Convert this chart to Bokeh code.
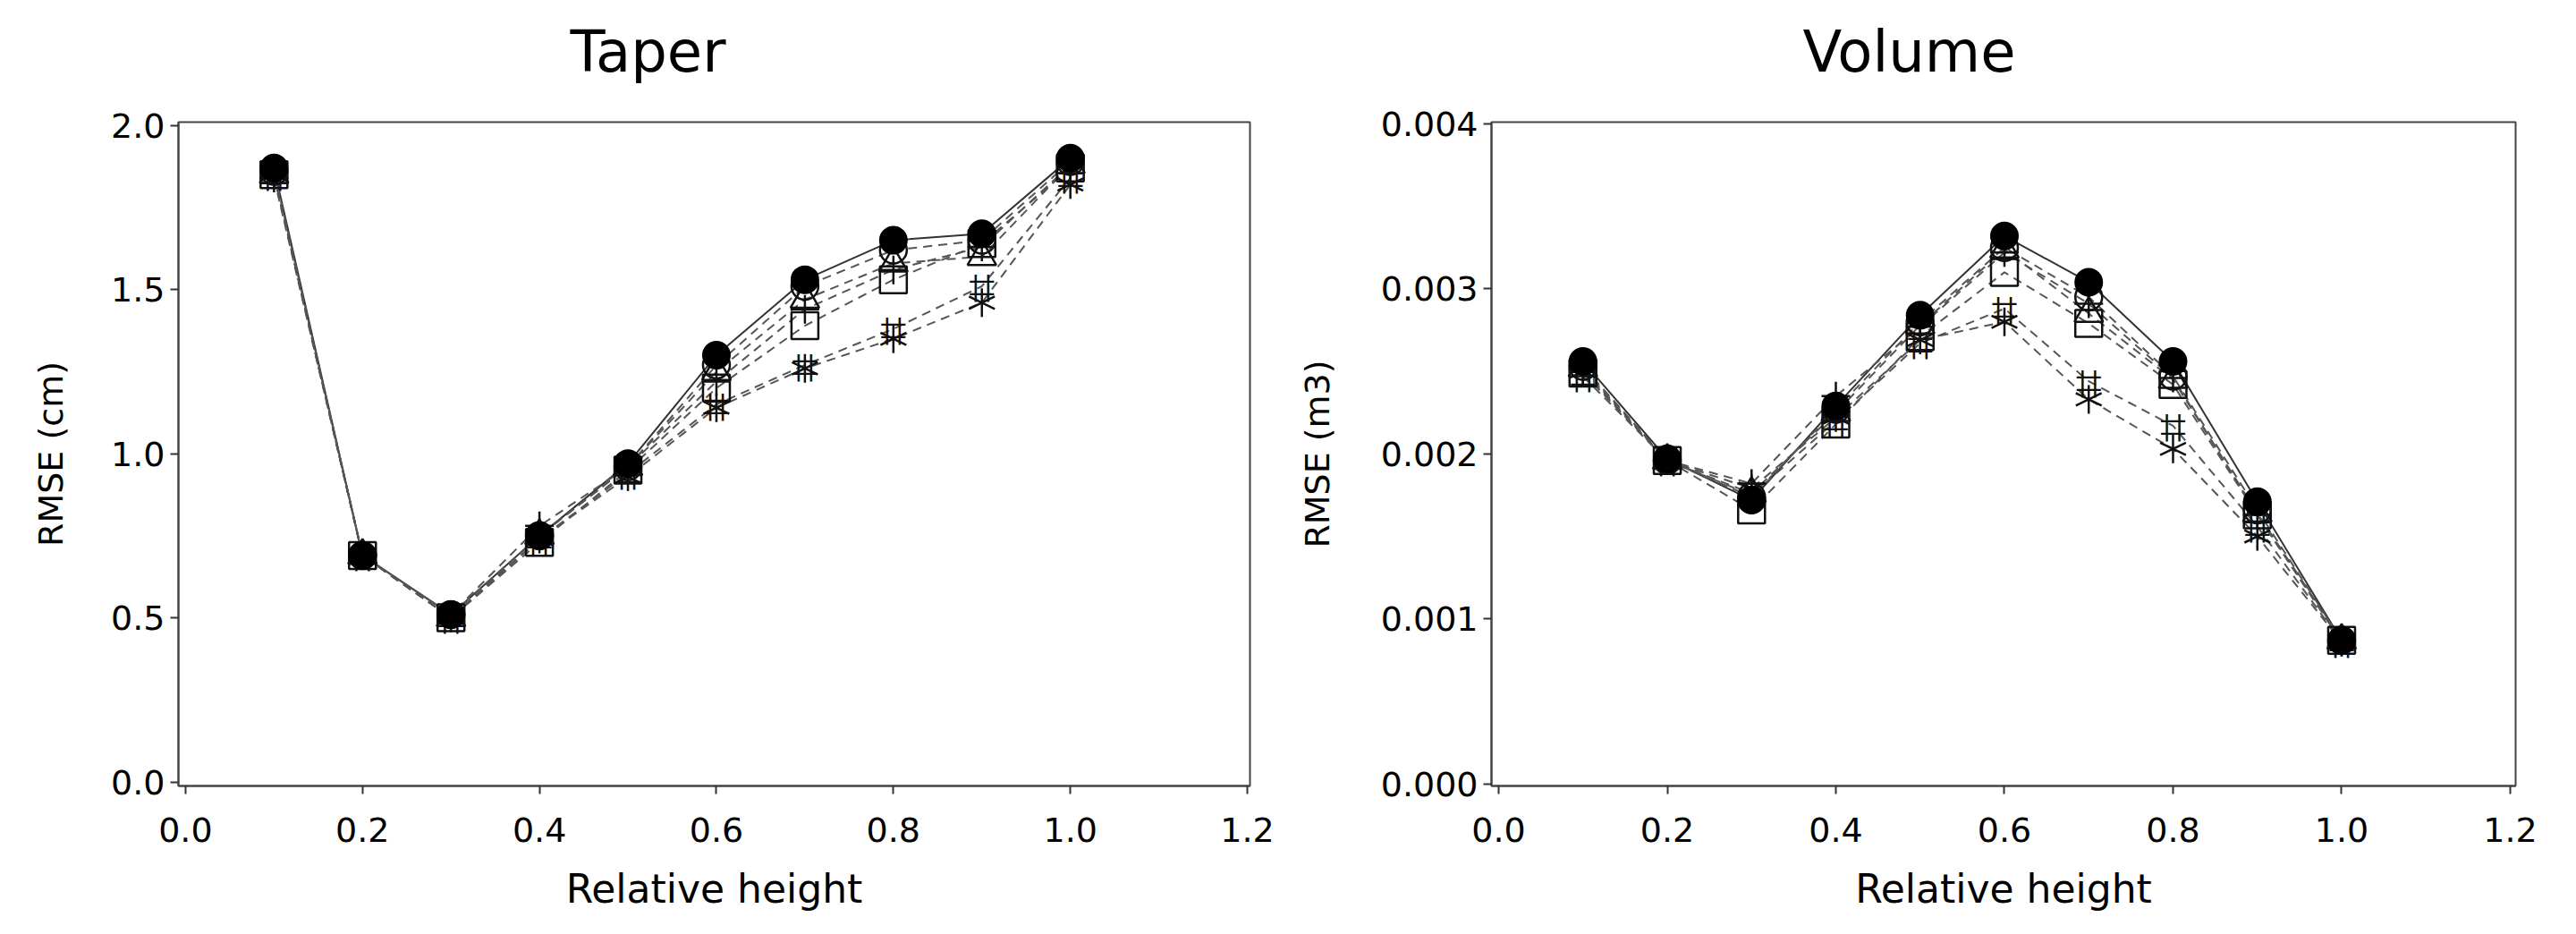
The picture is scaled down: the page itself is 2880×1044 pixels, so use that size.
import math
from bokeh.plotting import figure
from bokeh.layouts import row
from bokeh.models import FixedTicker, NumeralTickFormatter, Range1d, Title
from bokeh.core.properties import value
from bokeh.embed import file_html
from bokeh.resources import INLINE

# ---------------- data ----------------
relative_height = [0.1, 0.2, 0.3, 0.4, 0.5, 0.6, 0.7, 0.8, 0.9, 1.0]

# Taper RMSE (cm)
taper_filled_circle = [1.87, 0.69, 0.51, 0.75, 0.97, 1.30, 1.53, 1.65, 1.67, 1.90]
taper_open_circle   = [1.86, 0.69, 0.51, 0.75, 0.96, 1.27, 1.51, 1.62, 1.65, 1.89]
taper_triangle      = [1.85, 0.69, 0.50, 0.75, 0.96, 1.25, 1.47, 1.58, 1.60, 1.88]
taper_plus          = [1.84, 0.69, 0.51, 0.78, 0.96, 1.22, 1.44, 1.56, 1.63, 1.88]
taper_square        = [1.85, 0.69, 0.50, 0.73, 0.95, 1.20, 1.39, 1.53, 1.64, 1.87]
taper_hash          = [1.85, 0.69, 0.50, 0.74, 0.94, 1.15, 1.27, 1.38, 1.51, 1.84]
taper_asterisk      = [1.85, 0.69, 0.50, 0.74, 0.93, 1.14, 1.26, 1.35, 1.46, 1.82]

# Volume RMSE (m3)
volume_filled_circle = [0.00256, 0.00197, 0.00172, 0.00229, 0.00284, 0.00332, 0.00304, 0.00256, 0.00171, 0.00087]
volume_open_circle   = [0.00253, 0.00196, 0.00174, 0.00227, 0.00280, 0.00325, 0.00295, 0.00247, 0.00166, 0.00087]
volume_triangle      = [0.00252, 0.00196, 0.00176, 0.00225, 0.00278, 0.00324, 0.00285, 0.00245, 0.00164, 0.00087]
volume_plus          = [0.00251, 0.00196, 0.00182, 0.00235, 0.00277, 0.00322, 0.00291, 0.00246, 0.00163, 0.00086]
volume_square        = [0.00249, 0.00196, 0.00166, 0.00218, 0.00271, 0.00310, 0.00279, 0.00242, 0.00163, 0.00087]
volume_hash          = [0.00247, 0.00196, 0.00175, 0.00220, 0.00267, 0.00288, 0.00244, 0.00217, 0.00156, 0.00086]
volume_asterisk      = [0.00250, 0.00196, 0.00179, 0.00222, 0.00269, 0.00280, 0.00233, 0.00203, 0.00150, 0.00086]

x_ticks = [0.0, 0.2, 0.4, 0.6, 0.8, 1.0, 1.2]
taper_ticks = [0.0, 0.5, 1.0, 1.5, 2.0]
volume_ticks = [0.000, 0.001, 0.002, 0.003, 0.004]

FONT = "DejaVu Sans"
INK = "#111111"


def draw_markers(p, kind, xs, ys):
    if kind == "filled_circle":
        p.scatter(xs, ys, marker="circle", size=30, fill_color="black", line_color="black", line_width=2)
    elif kind == "open_circle":
        p.scatter(xs, ys, marker="circle", size=30, fill_alpha=0, line_color=INK, line_width=2.5)
    elif kind == "triangle":
        p.scatter(xs, ys, marker="triangle", size=32, fill_alpha=0, line_color=INK, line_width=2.5)
    elif kind == "plus":
        p.scatter(xs, ys, marker="cross", size=32, line_color=INK, line_width=2.5)
    elif kind == "square":
        p.scatter(xs, ys, marker="square", size=30, fill_alpha=0, line_color=INK, line_width=2.5)
    elif kind == "hash":
        vbars = ["|"] * len(xs)
        hbars = ["\u2014"] * len(xs)
        for dx in (-7, 7):
            p.text(xs, ys, text=vbars, x_offset=dx, text_font=value(FONT), text_font_size="30px",
                   text_align="center", text_baseline="middle", text_color=INK)
        for dy in (-7, 7):
            p.text(xs, ys, text=hbars, y_offset=dy, text_font=value(FONT), text_font_size="30px",
                   text_align="center", text_baseline="middle", text_color=INK)
    elif kind == "asterisk":
        for ang in (math.pi / 2, math.pi / 7, -math.pi / 7):
            p.scatter(xs, ys, marker="dash", size=32, angle=ang, line_color=INK, line_width=2.5)


def make_panel(title, title_offset, series, y_range, y_ticks, y_fmt, y_label,
               x_range, border_left, border_right, label_standoff):
    p = figure(width=1430, height=1028, output_backend="svg", toolbar_location=None,
               x_range=x_range, y_range=y_range,
               min_border_left=border_left, min_border_right=border_right,
               min_border_top=136, min_border_bottom=150,
               background_fill_color="white", border_fill_color="white")
    # invisible spacer between the frame and the title
    p.add_layout(Title(text=" ", text_font_size="1px", standoff=39), "above")

    p.title.text = title
    p.title.align = "left"
    p.title.vertical_align = "bottom"
    p.title.offset = title_offset
    p.title.text_font = FONT
    p.title.text_font_size = "64px"
    p.title.text_font_style = "normal"
    p.title.text_color = "black"
    p.title.standoff = 0

    p.grid.grid_line_color = None
    p.outline_line_color = "#444444"
    p.outline_line_width = 2

    for ax in (p.xaxis[0], p.yaxis[0]):
        ax.axis_line_color = "#444444"
        ax.axis_line_width = 2
        ax.major_tick_line_color = "#333333"
        ax.major_tick_line_width = 2
        ax.major_tick_in = 0
        ax.major_tick_out = 9
        ax.minor_tick_line_color = None
        ax.major_label_text_font = FONT
        ax.major_label_text_font_size = "38px"
        ax.major_label_text_color = "black"
        ax.axis_label_text_font = FONT
        ax.axis_label_text_font_style = "normal"
        ax.axis_label_text_color = "black"

    p.xaxis.ticker = FixedTicker(ticks=x_ticks)
    p.xaxis.formatter = NumeralTickFormatter(format="0.0")
    p.xaxis.axis_label = "Relative height"
    p.xaxis.axis_label_text_font_size = "44px"
    p.xaxis.major_label_standoff = 26
    p.xaxis.axis_label_standoff = 24

    p.yaxis.ticker = FixedTicker(ticks=y_ticks)
    p.yaxis.formatter = NumeralTickFormatter(format=y_fmt)
    p.yaxis.axis_label = y_label
    p.yaxis.axis_label_text_font_size = "38px"
    p.yaxis.major_label_standoff = 6
    p.yaxis.axis_label_standoff = label_standoff

    # lines first
    for kind, ys in series:
        if kind == "filled_circle":
            p.line(relative_height, ys, line_color="#333333", line_width=2)
        else:
            p.line(relative_height, ys, line_color="#555555", line_width=2, line_dash="10 7")
    # markers, filled circle drawn last (on top)
    for kind, ys in reversed(series):
        draw_markers(p, kind, relative_height, ys)
    return p


taper_series = [("filled_circle", taper_filled_circle), ("open_circle", taper_open_circle),
                ("triangle", taper_triangle), ("plus", taper_plus), ("square", taper_square),
                ("hash", taper_hash), ("asterisk", taper_asterisk)]
volume_series = [("filled_circle", volume_filled_circle), ("open_circle", volume_open_circle),
                 ("triangle", volume_triangle), ("plus", volume_plus), ("square", volume_square),
                 ("hash", volume_hash), ("asterisk", volume_asterisk)]

p1 = make_panel("Taper", 438, taper_series, Range1d(-0.012, 2.01), taper_ticks, "0.0",
                "RMSE (cm)", Range1d(-0.008, 1.203), 199, 33, 42)
p2 = make_panel("Volume", 348, volume_series, Range1d(-0.000012, 0.00401), volume_ticks, "0.000",
                "RMSE (m3)", Range1d(-0.0085, 1.2064), 237, 48, 46)

layout = row(p1, p2)
open("out.html", "w").write(file_html(layout, INLINE))
